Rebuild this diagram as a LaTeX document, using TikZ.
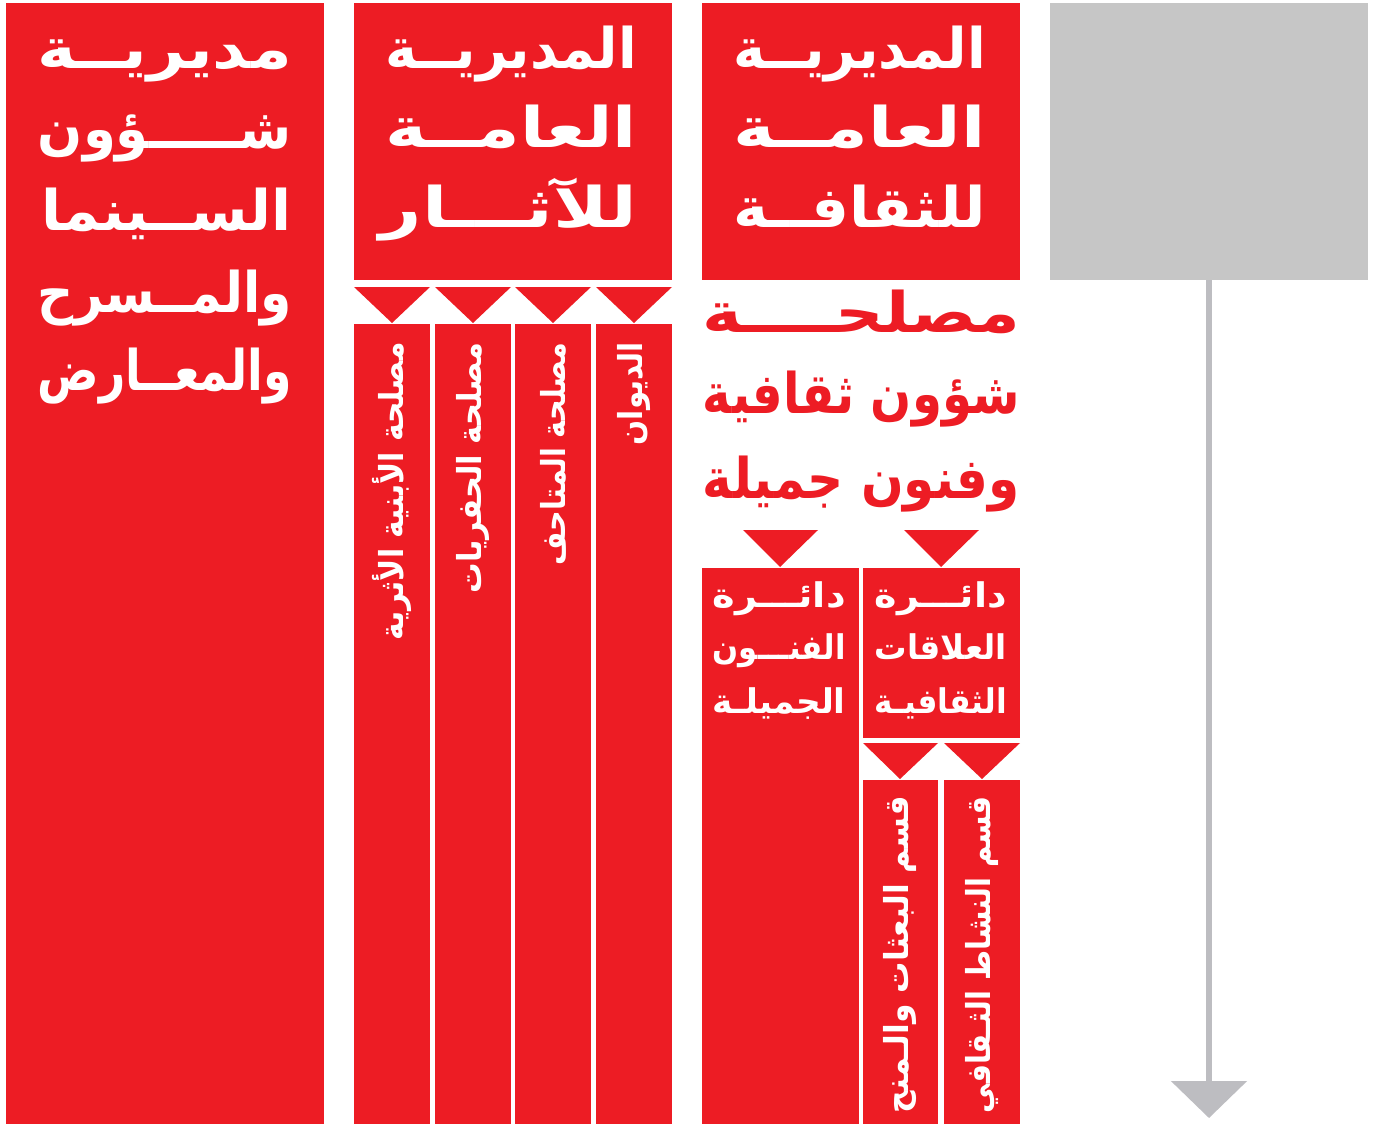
\documentclass[tikz,border=0pt]{standalone}
\usepackage{fontspec}
\usepackage{graphicx}
\TeXXeTstate=1
\newfontfamily\arabicfont[Script=Arabic]{DejaVu Sans}
\usetikzlibrary{arrows.meta}
\definecolor{cred}{HTML}{ED1C24}
\definecolor{cgreybox}{HTML}{C6C6C6}
\definecolor{carrow}{HTML}{BDBDC1}
\newsavebox\fitbox
\newcommand{\fitw}[2]{\sbox\fitbox{#2}\pgfmathsetmacro\fitratio{#1/\the\wd\fitbox}\scalebox{\fitratio}[1]{\usebox\fitbox}}
\begin{document}
\begin{tikzpicture}[x=1pt,y=-1pt,
  redbox/.style={fill=cred, draw=none, inner sep=0pt, outer sep=0pt, anchor=north west},
  greybox/.style={fill=cgreybox, draw=none, inner sep=0pt, outer sep=0pt, anchor=north west},
  tri/.style={fill=cred, draw=none},
  bigw/.style={text=white, inner sep=0pt, anchor=base east, font=\arabicfont\bfseries\fontsize{56}{56}\selectfont},
  bigr/.style={text=cred, inner sep=0pt, anchor=base east, font=\arabicfont\bfseries\fontsize{56}{56}\selectfont},
  midw/.style={text=white, inner sep=0pt, anchor=base east, font=\arabicfont\bfseries\fontsize{34}{34}\selectfont},
  vertw/.style={text=white, inner sep=0pt, anchor=east, rotate=90, font=\arabicfont\bfseries\fontsize{33}{33}\selectfont}
  ]
\useasboundingbox[fill=white] (0,0) rectangle (1381,1124);

% column 1
\node[redbox, minimum width=318pt, minimum height=1121pt] (cinema) at (6,3) {};
\node[bigw] (c1) at (292,68)  {\fitw{254}{\beginR مديريــة\endR}};
\node[bigw] (c2) at (292,148) {\fitw{254}{\beginR شـــــؤون\endR}};
\node[bigw] (c3) at (292,230) {\fitw{250}{\beginR الســينما\endR}};
\node[bigw] (c4) at (292,312) {\fitw{254}{\beginR والمــسرح\endR}};
\node[bigw] (c5) at (292,390) {\fitw{254}{\beginR والمعــارض\endR}};

% column 2
\node[redbox, minimum width=318pt, minimum height=277pt] (athar) at (354,3) {};
\node[bigw] (a1) at (637,68)  {\fitw{251}{\beginR المديريــة\endR}};
\node[bigw] (a2) at (637,147) {\fitw{251}{\beginR العامــة\endR}};
\node[bigw] (a3) at (637,227) {\fitw{257}{\beginR للآثـــار\endR}};

\fill[tri] (354,287) -- (430,287) -- (392,323) -- cycle;
\fill[tri] (435,287) -- (511,287) -- (473,323) -- cycle;
\fill[tri] (515,287) -- (591,287) -- (553,323) -- cycle;
\fill[tri] (596,287) -- (672,287) -- (634,323) -- cycle;

\node[redbox, minimum width=76pt, minimum height=800pt] (ab) at (354,324) {};
\node[redbox, minimum width=76pt, minimum height=800pt] (hf) at (435,324) {};
\node[redbox, minimum width=76pt, minimum height=800pt] (mt) at (515,324) {};
\node[redbox, minimum width=76pt, minimum height=800pt] (dw) at (596,324) {};
\node[vertw] (abt) at (392,342) {\fitw{298}{\beginR مصلحة الأبنية الأثرية\endR}};
\node[vertw] (hft) at (473,342) {\fitw{251}{\beginR مصلحة الحفريات\endR}};
\node[vertw] (mtt) at (553,342) {\fitw{223}{\beginR مصلحة المتاحف\endR}};
\node[vertw] (dwt) at (634,342) {\fitw{103}{\beginR الديوان\endR}};

% column 3
\node[redbox, minimum width=318pt, minimum height=277pt] (thaqafa) at (702,3) {};
\node[bigw] (t1) at (986,68)  {\fitw{252}{\beginR المديريــة\endR}};
\node[bigw] (t2) at (986,147) {\fitw{252}{\beginR العامــة\endR}};
\node[bigw] (t3) at (986,227) {\fitw{252}{\beginR للثقافــة\endR}};

\node[bigr] (m1) at (1020,332) {\fitw{317}{\beginR مصلحــــة\endR}};
\node[bigr] (m2) at (1020,413) {\fitw{317}{\beginR شؤون ثقافية\endR}};
\node[bigr] (m3) at (1020,498) {\fitw{317}{\beginR وفنون جميلة\endR}};

\fill[tri] (743,530) -- (818,530) -- (780,567) -- cycle;
\fill[tri] (904,530) -- (979,530) -- (941,567) -- cycle;

\node[redbox, minimum width=157pt, minimum height=556pt] (fnn) at (702,568) {};
\node[redbox, minimum width=157pt, minimum height=170pt] (alq) at (863,568) {};
\node[midw] (f1) at (846,607) {\fitw{133}{\beginR دائـــرة\endR}};
\node[midw] (f2) at (846,659) {\fitw{133}{\beginR الفنـــون\endR}};
\node[midw] (f3) at (846,713) {\fitw{133}{\beginR الجميلـة\endR}};
\node[midw] (q1) at (1007,607) {\fitw{132}{\beginR دائـــرة\endR}};
\node[midw] (q2) at (1007,659) {\fitw{132}{\beginR العلاقات\endR}};
\node[midw] (q3) at (1007,713) {\fitw{132}{\beginR الثقافيـة\endR}};

\fill[tri] (863,743) -- (938,743) -- (900,779) -- cycle;
\fill[tri] (944,743) -- (1020,743) -- (982,779) -- cycle;

\node[redbox, minimum width=75pt, minimum height=344pt] (bth) at (863,780) {};
\node[redbox, minimum width=76pt, minimum height=344pt] (nsh) at (944,780) {};
\node[vertw] (btht) at (900,796) {\fitw{317}{\beginR قسم البعثات والـمنح\endR}};
\node[vertw] (nsht) at (982,796) {\fitw{317}{\beginR قسم النشاط الثـقافي\endR}};

% column 4
\node[greybox, minimum width=318pt, minimum height=277pt] (grey) at (1050,3) {};
\coordinate (tip) at (1209,1118);
\draw[carrow, line width=6pt, -{Triangle[width=75pt,length=37pt]}] (grey.south) -- (tip);
\end{tikzpicture}
\end{document}
